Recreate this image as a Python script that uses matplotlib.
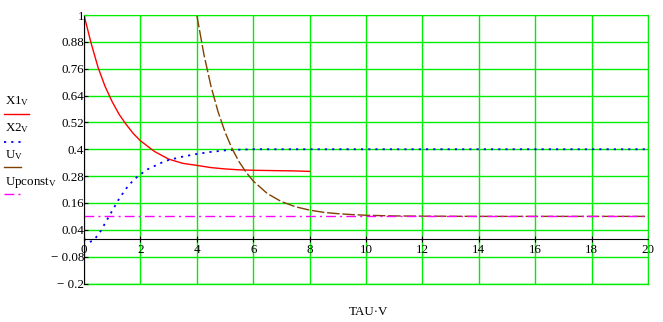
import matplotlib
matplotlib.use("Agg")
import matplotlib.pyplot as plt
import matplotlib.transforms as mtransforms
from matplotlib.lines import Line2D

# X1 (red)
t_x1 = [0, 0.25, 0.5, 0.75, 1.0, 1.25, 1.5, 1.75, 2.0, 2.5, 3.0, 3.5, 4.0, 4.5,
        5.0, 5.5, 6.0, 6.5, 7.0, 7.5, 8.0]
x1 = [1.0, 0.875, 0.765, 0.68, 0.612, 0.555, 0.51, 0.47, 0.438, 0.39, 0.356,
      0.337, 0.328, 0.318, 0.312, 0.308, 0.306, 0.305, 0.304, 0.303, 0.301]

# X2 (blue dotted)
t_x2 = [0, 0.15, 0.3, 0.4, 0.5, 0.6, 0.75, 1.0, 1.25, 1.5, 1.75, 2.0, 2.25,
        2.5, 2.75, 3.0, 3.5, 4.0, 4.5, 5.0, 5.5, 6.0, 8.0, 12.0, 16.0, 20.0]
x2 = [0.0, -0.016, -0.01, 0.002, 0.018, 0.036, 0.07, 0.125, 0.18, 0.225, 0.262,
      0.288, 0.31, 0.325, 0.34, 0.352, 0.367, 0.379, 0.388, 0.395, 0.398, 0.4,
      0.4, 0.4, 0.4, 0.4]

# U (brown dashed)
t_u = [4.0, 4.25, 4.5, 4.75, 5.0, 5.25, 5.5, 5.75, 6.0, 6.5, 7.0, 7.5, 8.0,
       8.5, 9.0, 9.5, 10.0, 11.0, 12.0, 14.0, 16.0, 18.0, 20.0]
u = [1.0, 0.825, 0.683, 0.569, 0.477, 0.403, 0.344, 0.297, 0.258, 0.202, 0.166,
     0.143, 0.128, 0.118, 0.112, 0.108, 0.105, 0.102, 0.101, 0.1, 0.1, 0.1, 0.1]

# Upconst (magenta dash-dot)
t_up = [0.0, 20.0]
upconst = [0.1, 0.1]

x_ticks = [0, 2, 4, 6, 8, 10, 12, 14, 16, 18, 20]
y_ticks = [1, 0.88, 0.76, 0.64, 0.52, 0.4, 0.28, 0.16, 0.04, -0.08, -0.2]
y_labels = ["1", "0.88", "0.76", "0.64", "0.52", "0.4", "0.28", "0.16",
            "0.04", "\u2212 0.08", "\u2212 0.2"]

legend_names = ["X1", "X2", "U", "Upconst"]

FS = 9.4
plt.rcParams["font.family"] = ["Liberation Serif", "DejaVu Serif"]
plt.rcParams["font.size"] = FS
plt.rcParams["mathtext.default"] = "regular"

W, H = 663, 322
fig = plt.figure(figsize=(W / 100, H / 100), dpi=100)
ax = fig.add_axes([84 / W, 1 - 283.5 / H, (648 - 84) / W, (283.5 - 15) / H])

green = "#00ee00"
red = "#ff0000"
blue = "#0000ff"
brown = "#804000"
magenta = "#ff00ff"

ax.plot(t_x1, x1, color=red, lw=1.0)
ax.plot(t_x2, x2, color=blue, lw=1.3, linestyle=(0, (1.2, 2.8)))
ax.plot(t_u, u, color=brown, lw=1.0, linestyle=(0, (9, 2)))
ax.plot(t_up, upconst, color=magenta, lw=1.0, linestyle=(0, (7, 3, 1.5, 3)))

ax.set_xlim(0, 20)
ax.set_ylim(-0.2, 1)
ax.set_xticks(x_ticks)
ax.set_yticks(y_ticks)
ax.set_yticklabels(y_labels)
ax.set_xticklabels([str(v) for v in x_ticks], ha="left")
# nudge the x labels a little to the right of their ticks
shift = mtransforms.ScaledTranslation(1.5 / 100, 0, fig.dpi_scale_trans)
for lbl in ax.get_xticklabels():
    lbl.set_transform(lbl.get_transform() + shift)

ax.grid(True, color=green, lw=1.0, zorder=0)
ax.set_axisbelow(True)
for side in ["top", "right"]:
    ax.spines[side].set_color(green)
ax.spines["bottom"].set_position(("data", 0))
ax.spines["bottom"].set_color("black")
ax.spines["left"].set_color("black")
ax.axhline(-0.2, color=green, lw=1.0, clip_on=False, zorder=0)

ax.tick_params(axis="y", direction="in", length=3, pad=0, colors="black")
ax.tick_params(axis="x", direction="inout", length=5, pad=1, colors="black")

fig.text(368 / W, 1 - 312 / H, "TAU\u00b7V", ha="center", va="center",
         fontsize=FS)

# legend drawn on the left like the original
leg_styles = [
    dict(color=red, lw=1.0, linestyle="-"),
    dict(color=blue, lw=1.3, linestyle=(0, (1.2, 2.8))),
    dict(color=brown, lw=1.0, linestyle="-"),
    dict(color=magenta, lw=1.0, linestyle=(0, (7, 3, 1.5, 3))),
]
leg_text_y = [101, 128, 155, 182]
leg_line_y = [114, 141.5, 167, 194]
leg_line_x = [(4, 29), (4, 24), (4, 21), (4, 21)]
for name, st, ty, ly, lx in zip(legend_names, leg_styles, leg_text_y,
                                leg_line_y, leg_line_x):
    fig.text(5 / W, 1 - ty / H, name + "$_{V}$", ha="left", va="center",
             fontsize=FS)
    fig.add_artist(Line2D([lx[0] / W, lx[1] / W], [1 - ly / H, 1 - ly / H],
                          transform=fig.transFigure, **st))

fig.savefig("out.png", dpi=100)
